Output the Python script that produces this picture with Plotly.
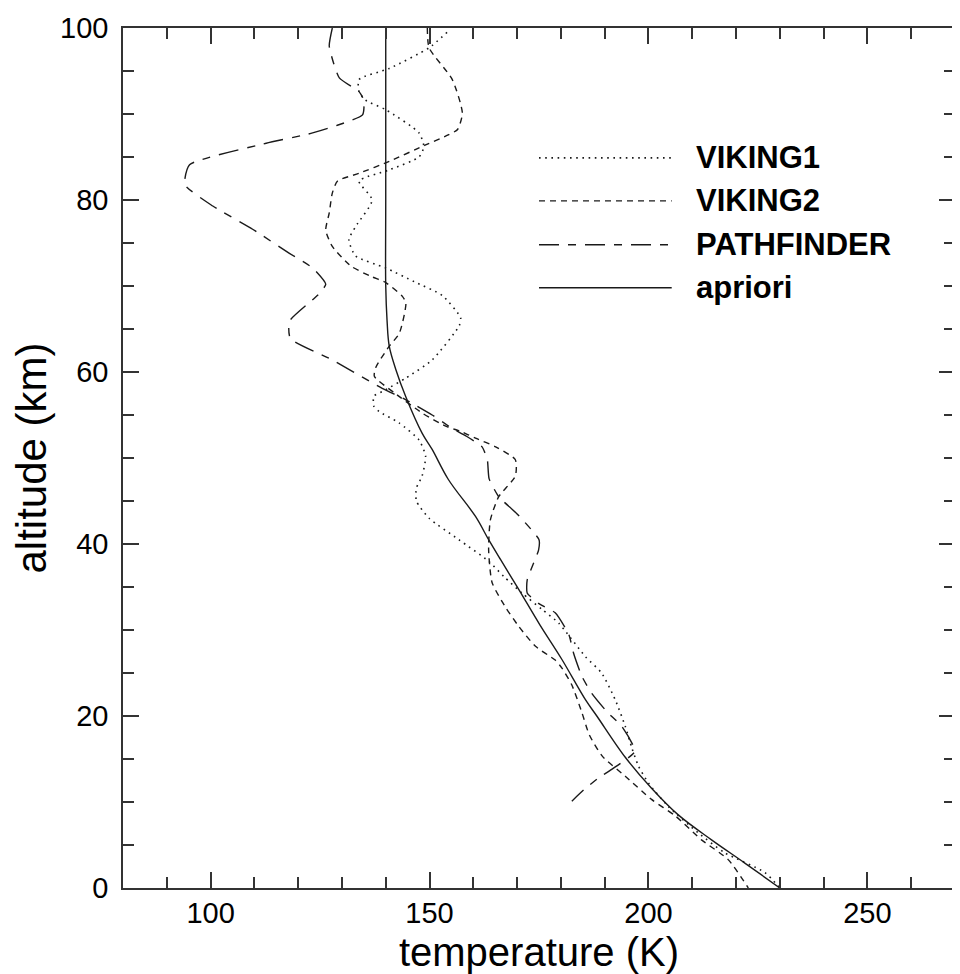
import plotly.graph_objects as go

# ---- data ----
viking1_T = [154.0, 149.9, 140.8, 133.9, 133.9, 135.4, 140.0, 147.6, 148.7, 147.6, 140.8, 133.9,
             136.9, 133.1, 131.6, 133.1, 140.0, 146.5, 152.9, 157.1, 156.8, 150.6, 144.6, 139.5,
             137.3, 137.3, 138.5, 143.0, 147.6, 149.1, 148.3, 147.0, 147.0, 149.9, 156.7, 163.5,
             167.0, 171.1, 175.7, 179.5, 185.6, 189.3, 192.4, 194.7, 196.2, 197.7, 200.0, 204.5,
             211.4, 217.4, 226.6, 230.0]
viking1_alt = [99.5, 97.7, 95.3, 94.0, 92.6, 91.6, 90.5, 87.8, 86.2, 85.0, 83.5, 82.2,
               80.0, 76.9, 75.4, 73.5, 72.1, 70.5, 68.9, 66.3, 65.4, 61.4, 59.3, 57.8,
               57.2, 56.0, 55.4, 54.1, 52.1, 50.2, 47.9, 46.5, 45.0, 43.0, 40.5, 38.0,
               36.2, 34.3, 32.4, 30.8, 26.9, 25.0, 21.9, 18.8, 16.3, 14.2, 12.2, 9.5,
               6.4, 4.1, 1.8, 0.0]

viking2_T = [149.5, 149.9, 155.2, 157.5, 156.4, 154.4, 149.1, 140.8, 133.9, 129.0, 127.8, 127.1,
             126.3, 127.8, 132.1, 136.7, 140.0, 143.8, 144.6, 143.1, 140.8, 137.8, 137.4, 141.9,
             148.4, 153.7, 157.1, 160.5, 165.1, 169.6, 169.6, 165.8, 163.9, 163.5, 164.3, 167.3,
             170.4, 174.2, 178.7, 180.2, 182.5, 184.8, 186.5, 189.5, 194.7, 200.7, 206.1, 212.1,
             218.2, 222.8]
viking2_alt = [100.0, 97.7, 94.0, 90.1, 88.2, 87.6, 86.4, 84.5, 83.1, 82.2, 80.8, 78.5,
               76.5, 74.6, 72.3, 71.1, 70.4, 68.8, 68.0, 64.5, 63.0, 60.6, 59.5, 57.6,
               55.2, 53.7, 53.1, 52.3, 51.3, 49.8, 47.9, 45.5, 42.8, 39.3, 35.5, 32.7,
               30.4, 28.1, 26.5, 25.6, 23.6, 20.4, 17.8, 15.3, 13.0, 10.3, 8.4, 5.6,
               3.3, 0.0]

pathfinder_T = [127.8, 127.1, 129.4, 133.9, 135.0, 134.7, 123.3, 112.7, 95.2, 94.1, 100.5, 109.6,
                118.0, 123.3, 126.3, 124.8, 123.3, 118.0, 118.2, 127.8, 139.2, 144.5, 150.6, 155.0,
                158.2, 162.0, 163.2, 163.6, 165.8, 170.0, 175.0, 174.9, 172.3, 172.3, 174.9, 178.7,
                181.8, 182.9, 184.8, 187.1, 190.5, 193.9, 196.9, 191.6, 188.6, 185.2, 182.5]
pathfinder_alt = [100.0, 97.9, 94.2, 92.6, 91.6, 89.9, 87.8, 86.6, 84.1, 81.8, 79.3, 76.6,
                  73.8, 72.1, 70.2, 69.1, 68.4, 65.9, 63.9, 61.4, 58.1, 56.8, 55.0, 53.5,
                  52.6, 51.3, 49.8, 47.6, 45.5, 43.5, 40.5, 39.3, 35.8, 34.3, 33.1, 32.0,
                  29.5, 27.3, 24.6, 22.6, 20.5, 18.8, 15.9, 13.8, 12.8, 11.4, 10.1]

apriori_T = [140.0, 140.0, 140.0, 140.3, 140.8, 142.3, 144.6, 148.3, 150.6, 154.3, 160.5, 163.5,
             166.2, 170.4, 175.2, 180.2, 185.6, 188.2, 194.7, 200.7, 206.8, 214.4, 222.0, 230.0]
apriori_alt = [100.0, 80.0, 70.0, 66.0, 63.0, 60.3, 57.1, 52.9, 51.0, 47.5, 43.2, 40.5,
               38.2, 34.7, 30.6, 26.6, 21.9, 20.0, 15.2, 11.6, 8.5, 5.6, 2.9, 0.0]

series_names = ["VIKING1", "VIKING2", "PATHFINDER", "apriori"]

# ---- styles ----
FONT = "Liberation Sans, Arial, sans-serif"
INK = "#1a1a1a"
AX = "#333333"
dashes = ["1.6px,4.6px", "6px,5px", "20px,9px,8px,9px", "solid"]
widths = [1.6, 1.4, 1.4, 1.4]
smooth = [0.6, 0.6, 0.5, 1.0]

xs = [viking1_T, viking2_T, pathfinder_T, apriori_T]
ys = [viking1_alt, viking2_alt, pathfinder_alt, apriori_alt]

fig = go.Figure()
for name, x, y, d, w, s in zip(series_names, xs, ys, dashes, widths, smooth):
    fig.add_trace(go.Scatter(x=x, y=y, mode="lines", name=name, showlegend=False,
                             line=dict(color=INK, width=w, dash=d, shape="spline", smoothing=s)))

# custom legend (long line samples, bold labels)
leg_y = [0.849, 0.799, 0.748, 0.698]
for name, d, w, ly in zip(series_names, dashes, widths, leg_y):
    fig.add_shape(type="line", xref="paper", yref="paper", x0=0.50, x1=0.6595, y0=ly, y1=ly,
                  line=dict(color=INK, width=w, dash=d))
    fig.add_annotation(xref="paper", yref="paper", x=0.686, y=ly, text=name, showarrow=False,
                       xanchor="left", yanchor="middle",
                       font=dict(family=FONT, size=31, color="#000000", weight="bold"))

axis_common = dict(showline=True, linecolor=AX, linewidth=1.5, mirror="allticks",
                   ticks="inside", ticklen=16, tickwidth=1.5, tickcolor=AX,
                   showgrid=False, zeroline=False,
                   tickfont=dict(family=FONT, size=29, color="#000000"))

fig.update_xaxes(range=[80, 270], tick0=0, dtick=50,
                 minor=dict(ticks="inside", ticklen=11, tickwidth=1.5, tickcolor=AX, dtick=10, showgrid=False),
                 title=dict(text="temperature (K)", font=dict(family=FONT, size=40, color="#000000"), standoff=12),
                 ticklabelstandoff=-2,
                 **axis_common)
fig.update_yaxes(range=[0, 100], tick0=0, dtick=20,
                 minor=dict(ticks="inside", ticklen=11, tickwidth=1.5, tickcolor=AX, dtick=5, showgrid=False),
                 title=dict(text="altitude (km)", font=dict(family=FONT, size=42, color="#000000"), standoff=4),
                 ticklabelstandoff=7,
                 **axis_common)

# the page body adds an 8px offset, so the figure is 8px smaller and margins compensate
fig.update_layout(width=952, height=966, margin=dict(l=115, r=3, t=20, b=86),
                  paper_bgcolor="white", plot_bgcolor="white", showlegend=False,
                  font=dict(family=FONT, color="#000000"))

fig.write_html("out.html")
